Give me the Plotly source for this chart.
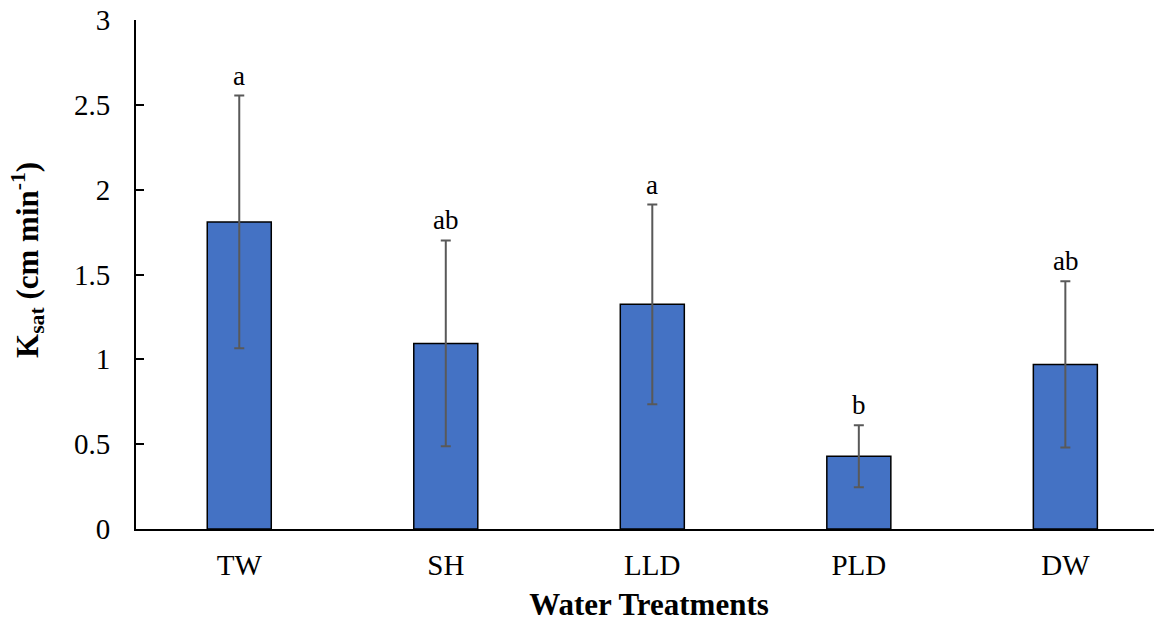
import plotly.graph_objects as go

categories = ["TW", "SH", "LLD", "PLD", "DW"]
ksat = [1.81, 1.094, 1.324, 0.429, 0.97]
err = [0.745, 0.607, 0.588, 0.183, 0.49]
letters = ["a", "ab", "a", "b", "ab"]

fig = go.Figure()
fig.add_trace(go.Bar(
    x=categories, y=ksat, width=0.31,
    marker=dict(color="#4472C4", line=dict(color="black", width=1.5)),
    error_y=dict(type="data", array=err, visible=True, color="#595959",
                 thickness=2, width=5),
))

for c, v, e, t in zip(categories, ksat, err, letters):
    fig.add_annotation(x=c, y=v + e, text=t, showarrow=False, yanchor="bottom",
                       yshift=3, font=dict(family="Liberation Serif", size=27, color="black"))

# y-axis title as rotated annotation for exact placement
fig.add_annotation(xref="paper", yref="paper", x=-0.1053, y=0.5285,
                   text="<b>K<sub>sat</sub> (cm min<sup>-1</sup>)</b>", textangle=-90,
                   showarrow=False, xanchor="center", yanchor="middle",
                   font=dict(family="Liberation Serif", size=31, color="black"))

fig.update_layout(
    width=1162, height=621,
    margin=dict(l=128, r=8, t=12, b=100),
    plot_bgcolor="white", paper_bgcolor="white",
    showlegend=False,
    font=dict(family="Liberation Serif", color="black"),
    xaxis=dict(
        range=[-0.5, 4.468], showline=True, linecolor="black", linewidth=2,
        ticks="", tickfont=dict(size=29, family="Liberation Serif"),
        ticklabelstandoff=9, automargin=False,
        title=dict(text="<b>Water Treatments</b>", font=dict(size=31, family="Liberation Serif"), standoff=14),
    ),
    yaxis=dict(
        range=[0, 3], dtick=0.5, showline=True, linecolor="black", linewidth=2,
        ticks="inside", ticklen=8, tickwidth=2, tickcolor="black",
        showgrid=False, zeroline=False, ticklabeloverflow="allow",
        ticklabelstandoff=18, automargin=False,
        tickfont=dict(size=29, family="Liberation Serif"),
    ),
)

fig.write_html("out.html")
